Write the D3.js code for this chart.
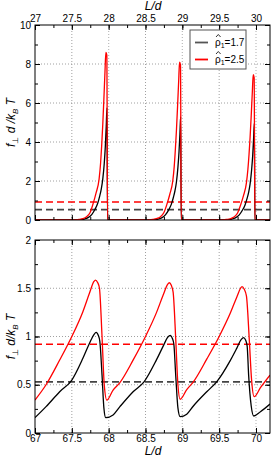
<!DOCTYPE html>
<html>
<head>
<meta charset="utf-8">
<script src="https://cdn.jsdelivr.net/npm/d3@7"></script>
<style>
  body { margin: 0; background: #fff; }
  text { font-family: "Liberation Sans", Arial, sans-serif; }
</style>
</head>
<body>
<script>
    // ---- data ----
    // top panel: L/d from 27 to 30.2
    var topRed = [
      [27.0, 0], [27.45, 0], [27.55, 0.01], [27.6, 0.03], [27.65, 0.07], [27.7, 0.17], [27.75, 0.4],
      [27.79, 0.85], [27.83, 1.4], [27.87, 2.1], [27.89, 2.9], [27.905, 3.8], [27.92, 4.9],
      [27.935, 6.2], [27.95, 7.6], [27.962, 8.6], [27.975, 8.45], [27.985, 0],
      [28.45, 0], [28.55, 0.01], [28.6, 0.03], [28.65, 0.07], [28.7, 0.16], [28.75, 0.38],
      [28.79, 0.8], [28.83, 1.32], [28.87, 2.0], [28.89, 2.75], [28.905, 3.6], [28.92, 4.6],
      [28.935, 5.8], [28.95, 7.1], [28.962, 8.1], [28.975, 7.95], [28.985, 0],
      [29.45, 0], [29.55, 0.01], [29.6, 0.03], [29.65, 0.06], [29.7, 0.15], [29.75, 0.36],
      [29.79, 0.76], [29.83, 1.25], [29.87, 1.9], [29.89, 2.6], [29.905, 3.35], [29.92, 4.25],
      [29.935, 5.35], [29.95, 6.55], [29.962, 7.45], [29.975, 7.3], [29.985, 0],
      [30.19, 0]
    ];
    var topBlack = [
      [27.0, 0], [27.5, 0], [27.6, 0.01], [27.67, 0.05], [27.72, 0.12], [27.77, 0.28], [27.815, 0.55],
      [27.85, 0.85], [27.88, 1.25], [27.9, 1.6], [27.92, 2.1], [27.94, 2.9], [27.955, 3.8],
      [27.967, 4.8], [27.977, 5.75], [27.985, 0],
      [28.5, 0], [28.6, 0.01], [28.67, 0.05], [28.72, 0.11], [28.77, 0.26], [28.815, 0.52],
      [28.85, 0.8], [28.88, 1.18], [28.9, 1.5], [28.92, 1.95], [28.94, 2.7], [28.955, 3.5],
      [28.967, 4.4], [28.977, 5.3], [28.985, 0],
      [29.5, 0], [29.6, 0.01], [29.67, 0.05], [29.72, 0.11], [29.77, 0.25], [29.815, 0.5],
      [29.85, 0.76], [29.88, 1.12], [29.9, 1.42], [29.92, 1.85], [29.94, 2.55], [29.955, 3.3],
      [29.967, 4.15], [29.977, 4.95], [29.985, 0],
      [30.19, 0]
    ];

    // bottom panel: L/d from 67 to 70.2
    var botRed = [
      [67.0, 0.342], [67.15, 0.5], [67.335, 0.756], [67.5, 1.0], [67.65, 1.257], [67.74, 1.45],
      [67.8, 1.57], [67.82, 1.585], [67.85, 1.56], [67.875, 1.5], [67.91, 1.0], [67.94, 0.5], [67.975, 0.34],
      [68.06, 0.445], [68.15, 0.52], [68.335, 0.76], [68.5, 1.0], [68.65, 1.25], [68.74, 1.43],
      [68.8, 1.54], [68.823, 1.557], [68.85, 1.53], [68.875, 1.46], [68.91, 0.98], [68.94, 0.5], [68.97, 0.35],
      [69.06, 0.45], [69.15, 0.53], [69.335, 0.77], [69.5, 1.0], [69.65, 1.24], [69.74, 1.41],
      [69.79, 1.5], [69.81, 1.516], [69.84, 1.49], [69.87, 1.42], [69.91, 0.95], [69.94, 0.55], [69.975, 0.376],
      [70.06, 0.47], [70.19, 0.6]
    ];
    var botBlack = [
      [67.0, 0.159], [67.15, 0.273], [67.335, 0.428], [67.5, 0.549], [67.65, 0.774], [67.74, 0.93],
      [67.8, 1.02], [67.83, 1.043], [67.86, 1.01], [67.88, 0.95], [67.91, 0.6], [67.935, 0.26], [67.96, 0.159],
      [68.06, 0.187], [68.15, 0.27], [68.335, 0.43], [68.48, 0.53], [68.65, 0.76], [68.74, 0.9],
      [68.8, 0.99], [68.837, 1.012], [68.865, 0.98], [68.885, 0.92], [68.91, 0.6], [68.94, 0.26], [68.97, 0.169],
      [69.06, 0.195], [69.15, 0.28], [69.335, 0.43], [69.466, 0.53], [69.65, 0.75], [69.74, 0.88],
      [69.8, 0.97], [69.83, 0.988], [69.86, 0.96], [69.88, 0.9], [69.9, 0.6], [69.935, 0.28], [69.97, 0.176],
      [70.06, 0.22], [70.19, 0.30]
    ];

    // mean values (dashed)
    var meanRed = 0.92, meanBlack = 0.53;

    var topXTicks = [27, 27.5, 28, 28.5, 29, 29.5, 30];
    var topYTicks = [0, 2, 4, 6, 8, 10];
    var botXTicks = [67, 67.5, 68, 68.5, 69, 69.5, 70];
    var botYTicks = [0, 0.5, 1, 1.5, 2];
    var legendLabels = ["1.7", "2.5"];
    var colors = ["#000", "#ff0000"];

    var width = 276, height = 459;
    var left = 35, right = 270;

    var svg = d3.select("body").append("svg")
        .attr("width", width).attr("height", height);

    function panel(cfg){
      var x = d3.scaleLinear().domain(cfg.xDomain).range([left, right]);
      var y = d3.scaleLinear().domain(cfg.yDomain).range([cfg.bottom, cfg.top]);
      var g = svg.append("g");

      // grid
      g.selectAll(".vgrid")
          .data(cfg.xTicks.filter(function(d){ return d > cfg.xDomain[0]; }))
        .enter().append("line")
          .attr("x1", function(d){ return x(d); }).attr("x2", function(d){ return x(d); })
          .attr("y1", cfg.top).attr("y2", cfg.bottom)
          .attr("stroke", function(d){ return d % 1 === 0 ? "#bbb" : "#888"; })
          .attr("stroke-width", function(d){ return d % 1 === 0 ? 1.2 : 0.8; })
          .attr("stroke-dasharray", "1,2");
      g.selectAll(".hgrid")
          .data(cfg.yTicks.filter(function(d){ return d > cfg.yDomain[0] && d < cfg.yDomain[1]; }))
        .enter().append("line")
          .attr("x1", left).attr("x2", right)
          .attr("y1", function(d){ return y(d); }).attr("y2", function(d){ return y(d); })
          .attr("stroke", "#888").attr("stroke-width", 0.8).attr("stroke-dasharray", "1,2");

      var clipId = "clip" + cfg.top;
      svg.append("clipPath").attr("id", clipId).append("rect")
          .attr("x", left).attr("y", cfg.top).attr("width", right - left).attr("height", cfg.bottom - cfg.top);

      // dashed means
      g.append("line")
          .attr("x1", left).attr("x2", right)
          .attr("y1", y(meanBlack)).attr("y2", y(meanBlack))
          .attr("stroke", "#444").attr("stroke-width", 1.8).attr("stroke-dasharray", "7,4");
      g.append("line")
          .attr("x1", left).attr("x2", right)
          .attr("y1", y(meanRed)).attr("y2", y(meanRed))
          .attr("stroke", "#ff0000").attr("stroke-width", 1.4).attr("stroke-dasharray", "7,4");

      var line = d3.line()
          .x(function(d){ return x(d[0]); })
          .y(function(d){ return y(d[1]); })
          .curve(d3.curveMonotoneX);

      g.append("path").datum(cfg.black)
          .attr("clip-path", "url(#" + clipId + ")")
          .attr("d", line).attr("fill", "none").attr("stroke", colors[0]).attr("stroke-width", 1.3);
      g.append("path").datum(cfg.red)
          .attr("clip-path", "url(#" + clipId + ")")
          .attr("d", line).attr("fill", "none").attr("stroke", colors[1]).attr("stroke-width", 1.3);

      // axes, ticks inward
      var minorX = d3.range(cfg.xDomain[0], cfg.xDomain[1], 0.25);
      var minorY = d3.range(cfg.yDomain[0], cfg.yDomain[1] + 1e-9, cfg.yMinor);
      var h = cfg.bottom - cfg.top, w = right - left;

      function addAxis(axis, tx, ty){
        var a = g.append("g").attr("transform", "translate(" + tx + "," + ty + ")").call(axis);
        a.select(".domain").remove();
        a.selectAll("text").attr("font-size", 10).attr("fill", "#000")
          .attr("font-family", "Liberation Sans, Arial, sans-serif");
        a.selectAll("line").attr("stroke", "#000");
        return a;
      }
      addAxis(d3.axisBottom(x).tickValues(cfg.xTicks).tickSize(-5).tickPadding(2)
          .tickFormat(cfg.xLabelsBottom ? d3.format("") : ""), 0, cfg.bottom);
      addAxis(d3.axisBottom(x).tickValues(minorX).tickSize(-3).tickFormat(""), 0, cfg.bottom);
      addAxis(d3.axisTop(x).tickValues(cfg.xTicks).tickSize(-5).tickPadding(3)
          .tickFormat(cfg.xLabelsBottom ? "" : d3.format("")), 0, cfg.top);
      addAxis(d3.axisTop(x).tickValues(minorX).tickSize(-3).tickFormat(""), 0, cfg.top);
      addAxis(d3.axisLeft(y).tickValues(cfg.yTicks).tickSize(-5).tickPadding(4).tickFormat(d3.format("")), left, 0);
      addAxis(d3.axisLeft(y).tickValues(minorY).tickSize(-3).tickFormat(""), left, 0);
      addAxis(d3.axisRight(y).tickValues(cfg.yTicks).tickSize(-5).tickFormat(""), right, 0);
      addAxis(d3.axisRight(y).tickValues(minorY).tickSize(-3).tickFormat(""), right, 0);

      g.append("rect")
          .attr("x", left).attr("y", cfg.top).attr("width", w).attr("height", h)
          .attr("fill", "none").attr("stroke", "#000").attr("stroke-width", 1);

      // y label
      var yl = g.append("text")
          .attr("transform", "translate(" + cfg.yLabelX + "," + (cfg.top + h / 2) + ") rotate(-90)")
          .attr("text-anchor", "middle").attr("font-size", 12);
      yl.append("tspan").attr("font-style", "italic").text("f");
      yl.append("tspan").attr("font-size", 8).attr("dy", 3).text("⊥");
      yl.append("tspan").attr("dy", -3).attr("font-style", "italic").text(cfg.yLabelMid);
      yl.append("tspan").attr("font-size", 8).attr("dy", 3).attr("font-style", "italic").text("B");
      yl.append("tspan").attr("dy", -3).attr("font-style", "italic").text(" T");

      return {x: x, y: y, g: g};
    }

    panel({
      xDomain: [27, 30.19], yDomain: [0, 10], top: 25, bottom: 220,
      xTicks: topXTicks, yTicks: topYTicks, yMinor: 1,
      red: topRed, black: topBlack, xLabelsBottom: false,
      yLabelX: 15, yLabelMid: " d /k"
    });
    panel({
      xDomain: [67, 70.19], yDomain: [0, 2], top: 240, bottom: 433,
      xTicks: botXTicks, yTicks: botYTicks, yMinor: 0.25,
      red: botRed, black: botBlack, xLabelsBottom: true,
      yLabelX: 15, yLabelMid: " d/k"
    });

    // x labels
    svg.append("text").attr("x", 153).attr("y", 10).attr("text-anchor", "middle")
        .attr("font-size", 12).attr("font-style", "italic").text("L/d");
    svg.append("text").attr("x", 153).attr("y", 455).attr("text-anchor", "middle")
        .attr("font-size", 12).attr("font-style", "italic").text("L/d");

    // legend
    var lg = svg.append("g");
    lg.append("rect").attr("x", 190).attr("y", 30).attr("width", 56).attr("height", 39)
        .attr("fill", "#fff").attr("stroke", "#555").attr("stroke-width", 1);
    legendLabels.forEach(function(d, i){
      var yy = 42.5 + i * 17;
      lg.append("line").attr("x1", 195).attr("x2", 208).attr("y1", yy).attr("y2", yy)
          .attr("stroke", i === 0 ? "#555" : colors[1]).attr("stroke-width", 1.8);
      // hat over rho
      lg.append("path")
          .attr("d", "M" + 216 + "," + (yy - 5.5) + "L" + 218.3 + "," + (yy - 8) + "L" + 220.6 + "," + (yy - 5.5))
          .attr("fill", "none").attr("stroke", "#000").attr("stroke-width", 0.8);
      var t = lg.append("text").attr("x", 215).attr("y", yy + 3.5).attr("font-size", 10);
      t.append("tspan").text("ρ");
      t.append("tspan").attr("font-size", 7).attr("dy", 2).text("1");
      t.append("tspan").attr("dy", -2).text("=" + d);
    });
</script>
</body>
</html>
